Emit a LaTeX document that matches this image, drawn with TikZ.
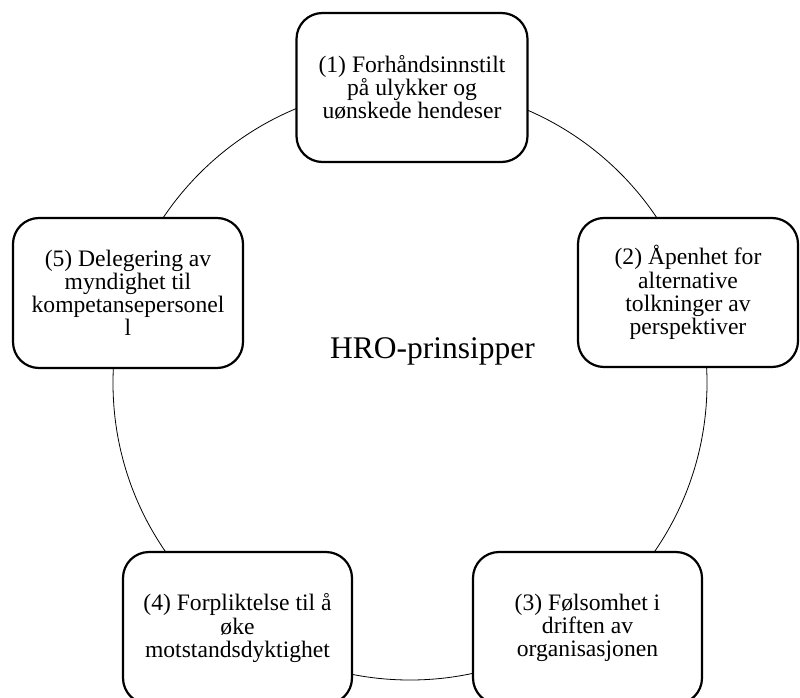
\documentclass[tikz,border=0pt]{standalone}
\usepackage{fontspec}
\setmainfont{Liberation Serif}
\begin{document}
\begin{tikzpicture}[x=1pt,y=-1pt,
  principle/.style={draw=black, line width=2.2pt, rounded corners=26pt, fill=white,
    align=center, inner sep=0pt, font=\fontsize{23.6}{23.2}\selectfont},
  ring/.style={draw=black, line width=0.8pt}]
  \useasboundingbox (0,0) rectangle (800,698);
  % ring joining the principles
  \node[ring, circle, minimum size=594pt, inner sep=0pt] (ring) at (410,383) {};
  % centre title
  \node[font=\fontsize{31.5}{36}\selectfont, anchor=base, inner sep=0pt] (title) at (432.5,358) {HRO-prinsipper};
  % the five principles
  \node[principle, minimum width=231pt, minimum height=149pt] (p1) at (412,87.5)
    {(1) Forhåndsinnstilt\\på ulykker og\\uønskede hendeser};
  \node[principle, minimum width=220pt, minimum height=149pt] (p2) at (688,292.5)
    {(2) Åpenhet for\\alternative\\tolkninger av\\perspektiver};
  \node[principle, minimum width=229pt, minimum height=152pt] (p3) at (587.5,628)
    {(3) Følsomhet i\\driften av\\organisasjonen};
  \node[principle, minimum width=229pt, minimum height=152pt] (p4) at (237.5,628)
    {(4) Forpliktelse til å\\øke\\motstandsdyktighet};
  \node[principle, minimum width=230pt, minimum height=150pt] (p5) at (128,293)
    {(5) Delegering av\\myndighet til\\kompetansepersonel\\l};
\end{tikzpicture}
\end{document}
